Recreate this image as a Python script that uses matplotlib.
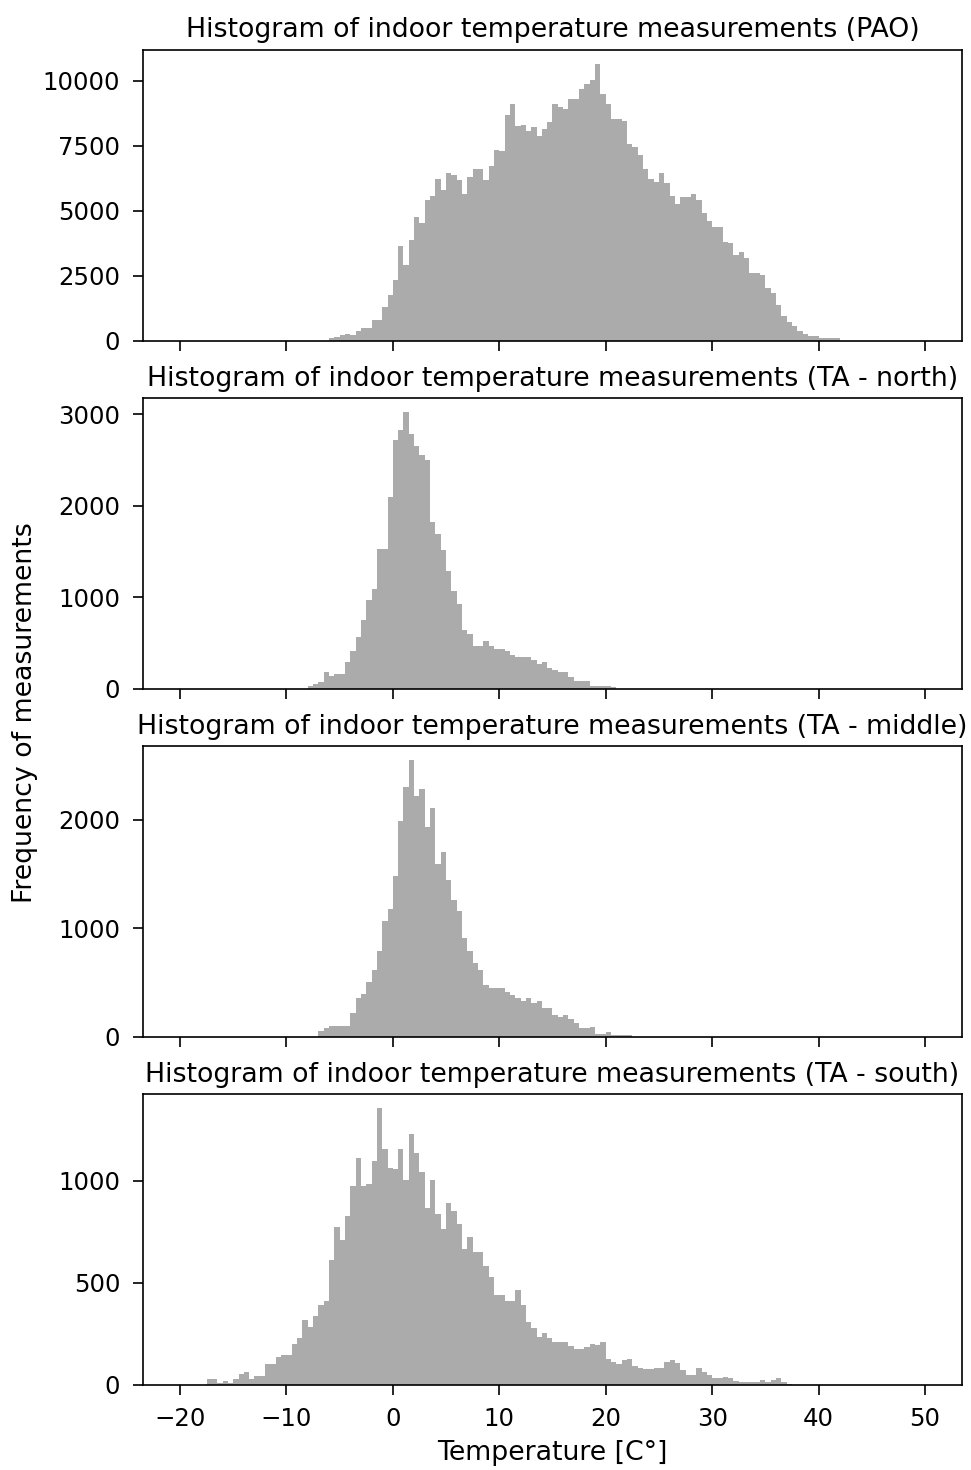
import numpy as np
import matplotlib
matplotlib.use("Agg")
import matplotlib.pyplot as plt
from matplotlib.ticker import MultipleLocator

plt.rcParams['font.size'] = 10.7
plt.rcParams['xtick.labelsize'] = 11.7
plt.rcParams['ytick.labelsize'] = 11.7
plt.rcParams['xtick.major.size'] = 4.8
plt.rcParams['ytick.major.size'] = 4.8
plt.rcParams['xtick.major.pad'] = 6
plt.rcParams['ytick.major.pad'] = 6

# bin width of all histograms [C]
bin_w = 0.5

# PAO
pao_start = -6.0
pao_counts = [100, 150, 200, 270, 200, 360, 485, 485, 780, 780,
              1290, 1740, 2340, 3650, 2910, 3870, 4760, 4530, 5430, 5570,
              6230, 5810, 6450, 6360, 6170, 5660, 6300, 6610, 6610, 6170,
              6740, 7340, 7290, 8680, 9130, 8270, 8310, 8080, 8210, 7890,
              8150, 8400, 9130, 8980, 8910, 9320, 9320, 9680, 9870, 10020,
              10660, 9490, 9130, 8530, 8530, 8470, 7570, 7470, 7130, 6610,
              6230, 6100, 6450, 6060, 5570, 5270, 5530, 5530, 5660, 5400,
              4920, 4610, 4380, 4380, 3810, 3740, 3300, 3420, 3170, 2620,
              2620, 2530, 2020, 1850, 1380, 930, 700, 550, 380, 255,
              165, 165, 115, 115, 90, 90]

# TA - north
north_start = -8.0
north_counts = [30, 50, 75, 180, 140, 160, 160, 290, 410, 560,
                745, 965, 1085, 1530, 1530, 2095, 2715, 2830, 3025, 2780,
                2650, 2550, 2500, 1820, 1690, 1510, 1290, 1065, 925, 640,
                600, 470, 470, 520, 470, 435, 435, 415, 370, 350,
                350, 350, 315, 270, 290, 225, 205, 180, 180, 125,
                80, 80, 80, 33, 33, 33, 33, 15]

# TA - middle
middle_start = -7.0
middle_counts = [55, 80, 95, 95, 95, 95, 220, 360, 395, 505,
                 610, 790, 1065, 1175, 1485, 1990, 2300, 2550, 2215, 2285,
                 1930, 2110, 1590, 1700, 1445, 1255, 1160, 910, 790, 680,
                 610, 480, 450, 450, 450, 410, 380, 360, 325, 360,
                 310, 325, 265, 265, 200, 185, 200, 165, 125, 77,
                 77, 92, 25, 25, 40, 18, 18, 18, 18]

# TA - south
south_start = -17.5
south_counts = [30, 30, 8, 20, 10, 30, 55, 60, 30, 45,
                45, 100, 100, 135, 145, 145, 200, 230, 315, 285,
                335, 390, 410, 610, 770, 710, 825, 975, 1110, 975,
                985, 1095, 1355, 1155, 1060, 1055, 1155, 1005, 1230, 1135,
                1040, 865, 1005, 835, 765, 890, 850, 785, 665, 725,
                650, 650, 580, 530, 440, 440, 410, 410, 465, 390,
                305, 280, 235, 255, 230, 210, 210, 210, 190, 175,
                175, 185, 200, 195, 210, 125, 110, 100, 120, 125,
                90, 80, 75, 75, 80, 80, 110, 120, 105, 70,
                50, 50, 80, 60, 50, 33, 33, 40, 33, 20,
                12, 12, 12, 12, 25, 12, 25, 33, 12, 5]

names = ["PAO", "TA - north", "TA - middle", "TA - south"]
starts = [pao_start, north_start, middle_start, south_start]
counts = [pao_counts, north_counts, middle_counts, south_counts]
ystep = [2500, 1000, 1000, 500]

fig, axes = plt.subplots(4, 1, sharex=True, figsize=(971 / 150, 1470 / 150), dpi=150)
fig.subplots_adjust(left=0.147, right=0.991, top=0.966, bottom=0.058, hspace=0.198)

for ax, name, s, c, st in zip(axes, names, starts, counts, ystep):
    c = np.array(c)
    edges = s + bin_w * np.arange(len(c) + 1)
    ax.hist(edges[:-1], bins=edges, weights=c, histtype='stepfilled', color='#ababab')
    ax.set_title('Histogram of indoor temperature measurements (' + name + ')')
    ax.yaxis.set_major_locator(MultipleLocator(st))

axes[-1].set_xlim(-23.5, 53.5)
axes[-1].set_xlabel('Temperature [C°]', fontsize='large')
fig.text(0.026, 0.515, 'Frequency of measurements', rotation=90, va='center', ha='center', fontsize='large')

plt.savefig('out.png', dpi=150)
